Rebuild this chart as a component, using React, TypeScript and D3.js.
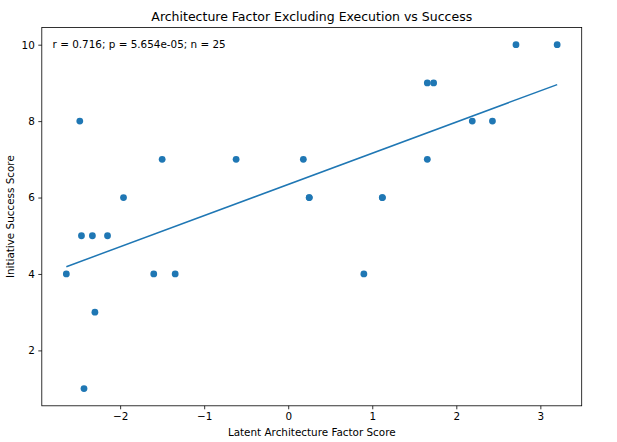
import { useEffect, useRef } from "react";
import * as d3 from "d3";

// latent architecture factor score per initiative
const factorScores = [
  -2.64, -2.48, -2.46, -2.43, -2.33, -2.3, -2.15, -1.96, -1.6, -1.5, -1.345,
  -0.62, 0.18, 0.25, 0.25, 0.9, 1.12, 1.12, 1.655, 1.73, 1.655, 2.19, 2.43,
  2.71, 3.2,
];
// initiative success score
const successScores = [
  4, 8, 5, 1, 5, 3, 5, 6, 4, 7, 4, 7, 7, 6, 6, 4, 6, 6, 9, 9, 7, 8, 8, 10, 10,
];
const xTicks = [-2, -1, 0, 1, 2, 3];
const yTicks = [2, 4, 6, 8, 10];
const statsLabel = "r = 0.716; p = 5.654e-05; n = 25";

const W = 617,
  H = 442;
const margin = { top: 27.5, right: 35.3, bottom: 36.2, left: 41.8 };
const BLUE = "#1f77b4";
const FONT = "DejaVu Sans, sans-serif";
const FS = "10.4px";

const fmt = (v: number) => (v < 0 ? "\u2212" + Math.abs(v) : String(v));

const App: React.FC = () => {
  const svgRef = useRef<SVGSVGElement | null>(null);

  useEffect(() => {
    const svg = d3.select(svgRef.current);
    svg.selectAll("*").remove();

    const innerW = W - margin.left - margin.right;
    const innerH = H - margin.top - margin.bottom;

    // matplotlib-style 5% margins around the data
    const [x0, x1] = d3.extent(factorScores) as [number, number];
    const [y0, y1] = d3.extent(successScores) as [number, number];
    const px = (x1 - x0) * 0.05,
      py = (y1 - y0) * 0.05;

    const x = d3.scaleLinear().domain([x0 - px, x1 + px]).range([0, innerW]);
    const y = d3.scaleLinear().domain([y0 - py, y1 + py]).range([innerH, 0]);

    const g = svg
      .append("g")
      .attr("transform", `translate(${margin.left},${margin.top})`);

    // least squares fit
    const mx = d3.mean(factorScores)!;
    const my = d3.mean(successScores)!;
    let sxy = 0,
      sxx = 0;
    factorScores.forEach((v, i) => {
      sxy += (v - mx) * (successScores[i] - my);
      sxx += (v - mx) * (v - mx);
    });
    const slope = sxy / sxx;
    const icpt = my - slope * mx;

    const pts = factorScores.map((v, i) => [v, successScores[i]] as [number, number]);

    g.selectAll(".dot")
      .data(pts)
      .enter()
      .append("circle")
      .attr("class", "dot")
      .attr("cx", (d) => x(d[0]))
      .attr("cy", (d) => y(d[1]))
      .attr("r", 3.4)
      .attr("fill", BLUE);

    const line = d3
      .line<number>()
      .x((d) => x(d))
      .y((d) => y(icpt + slope * d));
    g.append("path")
      .datum([x0, x1])
      .attr("d", line)
      .attr("fill", "none")
      .attr("stroke", BLUE)
      .attr("stroke-width", 1.5);

    // frame
    g.append("rect")
      .attr("width", innerW)
      .attr("height", innerH)
      .attr("fill", "none")
      .attr("stroke", "#000")
      .attr("stroke-width", 0.8);

    const xAxis = g
      .append("g")
      .attr("transform", `translate(0,${innerH})`)
      .call(d3.axisBottom(x).tickValues(xTicks).tickFormat((d) => fmt(+d)).tickSizeOuter(0).tickSize(3.5).tickPadding(3.5));
    const yAxis = g
      .append("g")
      .call(d3.axisLeft(y).tickValues(yTicks).tickFormat((d) => fmt(+d)).tickSizeOuter(0).tickSize(3.5).tickPadding(3.5));

    [xAxis, yAxis].forEach((a) => {
      a.select(".domain").remove();
      a.selectAll("line").attr("stroke", "#000").attr("stroke-width", 0.8);
      a.selectAll("text")
        .attr("fill", "#000")
        .style("font-family", FONT)
        .style("font-size", FS);
    });

    g.append("text")
      .attr("x", innerW * 0.02)
      .attr("y", 20)
      .style("font-family", FONT)
      .style("font-size", FS)
      .text(statsLabel);

    svg
      .append("text")
      .attr("x", margin.left + innerW / 2)
      .attr("y", 21)
      .attr("text-anchor", "middle")
      .style("font-family", FONT)
      .style("font-size", "12.5px")
      .text("Architecture Factor Excluding Execution vs Success");

    svg
      .append("text")
      .attr("x", margin.left + innerW / 2)
      .attr("y", 435.5)
      .attr("text-anchor", "middle")
      .style("font-family", FONT)
      .style("font-size", FS)
      .text("Latent Architecture Factor Score");

    svg
      .append("text")
      .attr("transform", `translate(14,${margin.top + innerH / 2}) rotate(-90)`)
      .attr("text-anchor", "middle")
      .style("font-family", FONT)
      .style("font-size", FS)
      .text("Initiative Success Score");
  }, []);

  return (
    <svg
      ref={svgRef}
      width={W}
      height={H}
      style={{ position: "absolute", left: 0, top: 0, background: "#fff" }}
    ></svg>
  );
};

export default App;
